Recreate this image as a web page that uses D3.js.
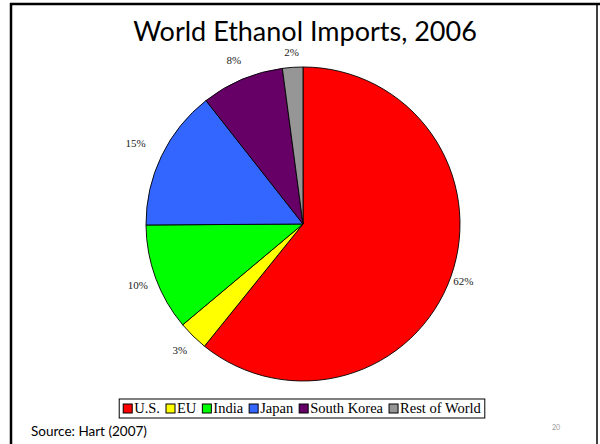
<!DOCTYPE html>
<html>
<head>
<meta charset="utf-8">
<script src="https://cdn.jsdelivr.net/npm/d3@7"></script>
<style>
  html, body { margin: 0; padding: 0; background: #fff; }
  svg { display: block; }
</style>
</head>
<body>
<div id="chart"></div>
<script>
// Data
const categories = ["U.S.", "EU", "India", "Japan", "South Korea", "Rest of World"];
const shares = [60.8, 3.1, 11.0, 14.5, 8.5, 2.1];
const shareLabels = ["62%", "3%", "10%", "15%", "8%", "2%"];
const sliceColors = ["#ff0000", "#ffff00", "#00ff00", "#3366ff", "#660066", "#969696"];

const width = 600, height = 444;
const cx = 303, cy = 224, radius = 157;
// distance of each percentage label from the pie centre
const labelRadius = [170, 176, 176, 186, 178, 172];

const svg = d3.select("#chart").append("svg")
    .attr("width", width)
    .attr("height", height);

// Slide frame
svg.append("line").attr("x1", 10).attr("x2", 600).attr("y1", 4).attr("y2", 4)
    .attr("stroke", "#000").attr("stroke-width", 2.5);
svg.append("line").attr("x1", 11).attr("x2", 11).attr("y1", 3).attr("y2", 444)
    .attr("stroke", "#000").attr("stroke-width", 2.5);
svg.append("line").attr("x1", 597).attr("x2", 597).attr("y1", 4).attr("y2", 444)
    .attr("stroke", "#000").attr("stroke-width", 1.5);

// Title
svg.append("text")
    .attr("x", 305)
    .attr("y", 41)
    .attr("text-anchor", "middle")
    .attr("font-family", "Lato, 'Open Sans', sans-serif")
    .attr("font-size", "27px")
    .attr("fill", "#000")
    .text("World Ethanol Imports, 2006");

// Pie
const pie = d3.pie().sort(null).value(d => d);
const arcs = pie(shares);
const arc = d3.arc().innerRadius(0).outerRadius(radius);

const g = svg.append("g").attr("transform", `translate(${cx},${cy})`);

g.selectAll("path.slice")
    .data(arcs)
    .enter()
    .append("path")
    .attr("class", "slice")
    .attr("d", arc)
    .attr("fill", (d, i) => sliceColors[i])
    .attr("stroke", "#000")
    .attr("stroke-width", 0.9);

// Percentage labels outside the slices
g.selectAll("text.pct")
    .data(arcs)
    .enter()
    .append("text")
    .attr("class", "pct")
    .attr("transform", (d, i) => {
        const r = labelRadius[i];
        return `translate(${d3.arc().innerRadius(r).outerRadius(r).centroid(d)})`;
    })
    .attr("text-anchor", "middle")
    .attr("dominant-baseline", "central")
    .attr("font-family", "'Liberation Serif', 'Times New Roman', serif")
    .attr("font-size", "11px")
    .attr("fill", "#222")
    .text((d, i) => shareLabels[i]);

// Legend
const legend = svg.append("g");
const items = legend.selectAll("g.item")
    .data(categories)
    .enter()
    .append("g")
    .attr("class", "item");

items.append("rect")
    .attr("y", 1)
    .attr("width", 9)
    .attr("height", 9)
    .attr("fill", (d, i) => sliceColors[i])
    .attr("stroke", "#000")
    .attr("stroke-width", 1);

items.append("text")
    .attr("x", 11)
    .attr("y", 10)
    .attr("font-family", "'Liberation Serif', 'Times New Roman', serif")
    .attr("font-size", "14.5px")
    .attr("fill", "#000")
    .text(d => d);

let lx = 0;
items.each(function () {
    const w = d3.select(this).select("text").node().getComputedTextLength();
    d3.select(this).attr("transform", `translate(${lx},0)`);
    lx += 11 + w + 6;
});
const legendW = lx - 6 + 8;
const legendX = 302 - legendW / 2;
legend.attr("transform", `translate(${legendX + 4},${403})`);
svg.insert("rect", "g")
    .attr("x", legendX)
    .attr("y", 399)
    .attr("width", legendW)
    .attr("height", 19)
    .attr("fill", "#fff")
    .attr("stroke", "#000")
    .attr("stroke-width", 1);

// Source and page number
svg.append("text")
    .attr("x", 31)
    .attr("y", 436)
    .attr("font-family", "Lato, 'Open Sans', sans-serif")
    .attr("font-size", "13.5px")
    .attr("fill", "#000")
    .text("Source: Hart (2007)");

svg.append("text")
    .attr("x", 556)
    .attr("y", 430)
    .attr("text-anchor", "middle")
    .attr("font-family", "Lato, 'Open Sans', sans-serif")
    .attr("font-size", "7px")
    .attr("fill", "#999")
    .text("20");
</script>
</body>
</html>
